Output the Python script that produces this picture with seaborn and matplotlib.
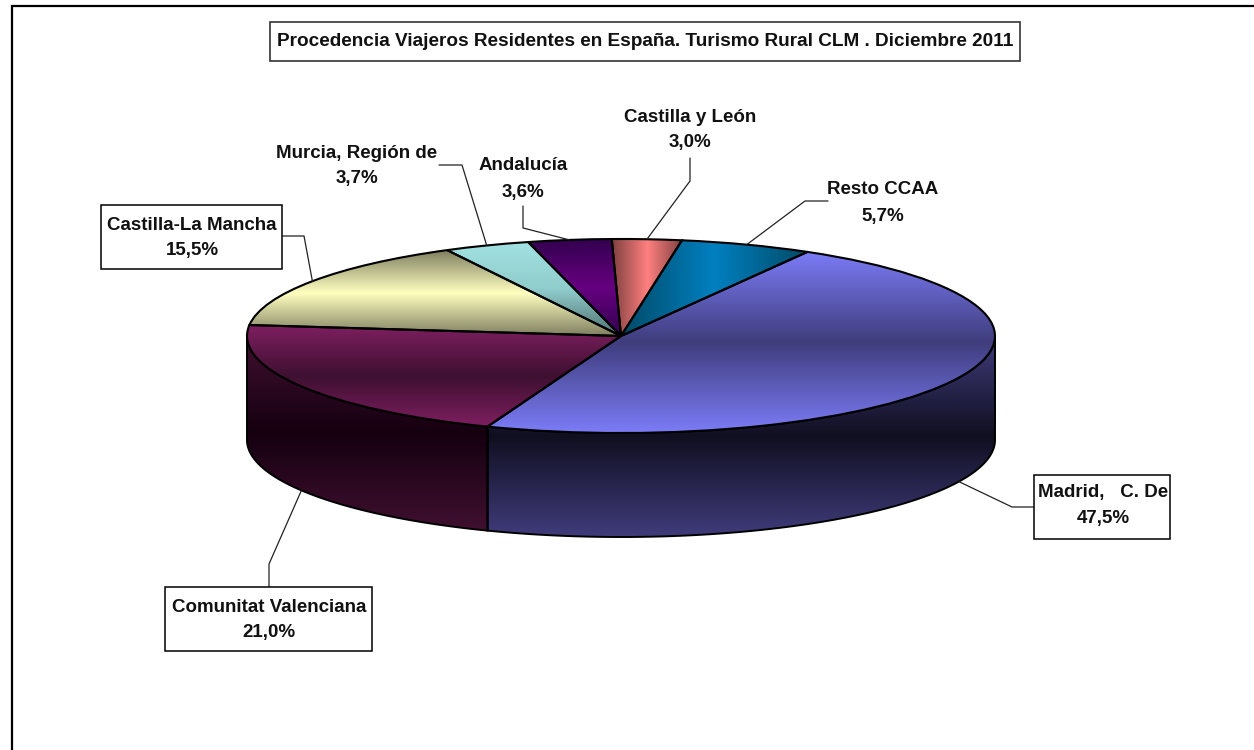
import numpy as np
import matplotlib
matplotlib.use("Agg")
import matplotlib.pyplot as plt
from matplotlib.patches import Polygon, Rectangle
import seaborn as sns

# ----------------------------------------------------
# Datos
# ----------------------------------------------------
titulo = "Procedencia Viajeros Residentes en España. Turismo Rural CLM . Diciembre 2011"
regiones = ["Madrid,   C. De", "Comunitat Valenciana", "Castilla-La Mancha",
            "Murcia, Región de", "Andalucía", "Castilla y León", "Resto CCAA"]
porcentajes = [47.5, 21.0, 15.5, 3.7, 3.6, 3.0, 5.7]
etiquetas = ["47,5%", "21,0%", "15,5%", "3,7%", "3,6%", "3,0%", "5,7%"]

# ----------------------------------------------------
# Estilo: degradados de cada sector (tapa y lateral)
# ----------------------------------------------------
tapa = [["#7c7cf8", "#3f3d7c", "#7c7cf8"],
        ["#7e1f60", "#3e1030", "#7e1f60"],
        ["#7f7f60", "#ffffc0", "#7f7f60"],
        ["#a2e2e2", "#90cccc", "#4f7070"],
        ["#33004f", "#660080", "#33004f"],
        ["#804040", "#ff8080", "#804040"],
        ["#004a66", "#0080c0", "#004a66"]]
horizontal = [False, False, False, False, False, True, True]
lateral = [["#403c7c", "#100f20", "#403c7c"],
           ["#401030", "#150010", "#401030"]]

# posicion de la elipse en pixeles
W, H = 1254, 750
CX, CY, RX, RY, PROF = 621, 336, 374, 97, 104
INICIO = 60.1  # grados, como startangle de pie

# caja de texto: centro x, y de la primera linea, recuadro (x0, y0, x1, y1) o None
cajas = [(1103, 493, (1034, 475, 1170, 539)),
         (269, 607, (165, 587, 372, 651)),
         (192, 225, (101, 205, 282, 269)),
         (357, 153, None),
         (523, 166, None),
         (690, 117, None),
         (883, 190, None)]
# tramo fijo de cada linea guia, desde la caja hasta el codo
guias = [[(1034, 507), (1012, 507)],
         [(269, 587), (269, 564)],
         [(282, 236), (304, 236)],
         [(439, 165), (462, 165)],
         [(523, 206), (523, 228)],
         [(690, 158), (690, 181)],
         [(828, 201), (805, 201)]]

# ----------------------------------------------------
# Figura
# ----------------------------------------------------
sns.set_theme(style="white")
plt.rcParams["font.family"] = ["Liberation Sans", "DejaVu Sans"]

fig = plt.figure(figsize=(W / 100, H / 100), dpi=100)
fondo = fig.add_axes([0, 0, 1, 1])
fondo.set_xlim(0, W)
fondo.set_ylim(H, 0)
fondo.axis("off")

# borde del grafico (se corta por la derecha y por abajo)
fondo.plot([12, 12, W], [H, 6, 6], color="black", lw=1.6, solid_joinstyle="miter")

# tarta en unidades de radio: x e y con escala distinta para la elipse
ax = fig.add_axes([0, 0, 1, 1])
ax.patch.set_alpha(0)
cuñas, _ = ax.pie(porcentajes, startangle=INICIO, counterclock=False, radius=1,
                  colors=[c[1] for c in tapa],
                  wedgeprops={"edgecolor": "black", "linewidth": 1.5})
ax.set_aspect("auto")
xlim = (-CX / RX, (W - CX) / RX)
ylim = ((CY - H) / RY, CY / RY)
prof = PROF / RY
ax.set_xlim(*xlim)
ax.set_ylim(*ylim)


def degradado(colores, caja, clip, vertical=True, zorder=1):
    cmap = sns.blend_palette(colores, as_cmap=True)
    g = np.linspace(0, 1, 256)
    g = g[:, None] if vertical else g[None, :]
    im = ax.imshow(g, cmap=cmap, extent=caja, origin="upper", aspect="auto",
                   interpolation="bilinear", zorder=zorder)
    im.set_clip_path(clip)


# laterales: solo la parte delantera de cada sector
fin = np.cumsum(porcentajes) * 3.6 + (90 - INICIO)
ini = fin - np.array(porcentajes) * 3.6
for i in range(len(porcentajes)):
    a0, a1 = max(ini[i], 90), min(fin[i], 270)
    if a1 <= a0:
        continue
    ang = np.radians(np.linspace(a0, a1, 200))
    x, y = np.sin(ang), np.cos(ang)
    pts = np.r_[np.c_[x, y], np.c_[x[::-1], y[::-1] - prof]]
    borde = Polygon(pts, closed=True, facecolor="none", edgecolor="black", lw=1.4, zorder=2)
    ax.add_patch(borde)
    degradado(lateral[i], (x.min(), x.max(), pts[:, 1].min(), pts[:, 1].max()), borde)

# tapa: cada cuña con su degradado
for i, w in enumerate(cuñas):
    w.set_zorder(4)
    w.set_facecolor("none")
    b = w.get_path().transformed(w.get_patch_transform()).get_extents()
    degradado(tapa[i], (b.x0, b.x1, b.y0, b.y1), w, vertical=not horizontal[i], zorder=3)

ax.set_xlim(*xlim)
ax.set_ylim(*ylim)
ax.axis("off")

# lineas guia: el extremo sale del angulo medio del sector
medio = np.radians((ini + fin) / 2)
for i, g in enumerate(guias):
    px = CX + RX * np.sin(medio[i])
    py = CY - RY * np.cos(medio[i])
    if np.cos(medio[i]) < 0:
        py += PROF
    xs = [p[0] for p in g] + [px]
    ys = [p[1] for p in g] + [py]
    fondo.plot(xs, ys, color="#222222", lw=0.9, zorder=1)

# textos
estilo = dict(fontsize=13.5, fontweight="bold", color="#111111", ha="center", va="center", zorder=6)
for i, (cx, cy, caja) in enumerate(cajas):
    if caja is not None:
        fondo.add_patch(Rectangle((caja[0], caja[1]), caja[2] - caja[0], caja[3] - caja[1],
                                  facecolor="white", edgecolor="black", lw=1.1, zorder=5))
    fondo.text(cx, cy, regiones[i], **estilo)
    fondo.text(cx, cy + 26, etiquetas[i], **estilo)

fondo.add_patch(Rectangle((270, 22), 750, 39, facecolor="white", edgecolor="#333333", lw=1.2, zorder=5))
fondo.text(645, 42, titulo, **dict(estilo, fontsize=13.72))

# el eje de la tarta va delante de las guias; cajas por encima
ax.set_zorder(1)
fondo.set_zorder(2)
fondo.patch.set_alpha(0)

fig.savefig("out.png", dpi=100)
